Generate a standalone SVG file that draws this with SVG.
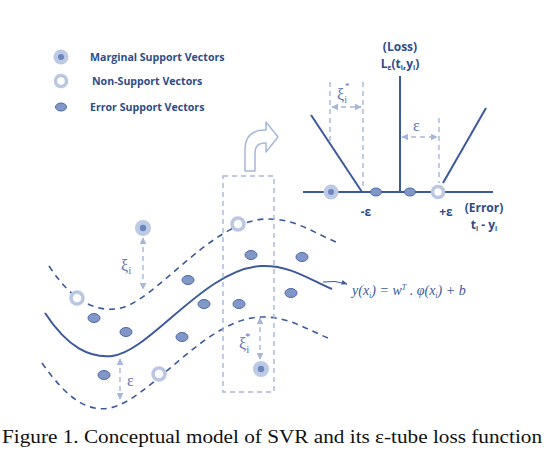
<svg xmlns="http://www.w3.org/2000/svg" width="544" height="450" viewBox="0 0 544 450">
<defs>
<style>
.lg{font-family:"Open Sans","Liberation Sans",sans-serif;font-weight:bold;font-size:10.6px;fill:#2c4c8c}
.bl{font-family:"Open Sans","Liberation Sans",sans-serif;font-weight:bold;font-size:12px;fill:#2c4c8c;text-anchor:middle}
.gr{font-family:"Liberation Serif",serif;font-size:16px;fill:#5a74b0}
.sol{fill:none;stroke:#3b5a9b;stroke-width:2}
.dsh{fill:none;stroke:#3b5a9b;stroke-width:1.6;stroke-dasharray:6 5}
.lt{fill:none;stroke:#a6b7dc;stroke-width:1.4;stroke-dasharray:5 4}
.err{fill:#8097c8;stroke:#4d6aa8;stroke-width:1}
.ring{fill:#fff;stroke:#b9c7e3;stroke-width:3.5}
.mo{fill:#bccae5}
.mi{fill:#6d85bd}
</style>
<marker id="ah" viewBox="0 0 10 10" refX="9" refY="5" markerWidth="5" markerHeight="5" orient="auto-start-reverse">
<path d="M0,0 L10,5 L0,10 z" fill="#a6b7dc"/>
</marker>
<marker id="ad" viewBox="0 0 10 10" refX="9" refY="5" markerWidth="6" markerHeight="6" orient="auto">
<path d="M0,1 L10,5 L0,9 z" fill="#3b5a9b"/>
</marker>
</defs>
<rect width="544" height="450" fill="#fff"/>

<g id="legend">
<circle class="mo" cx="61" cy="57" r="7.5"/><circle class="mi" cx="61" cy="57" r="3"/>
<text class="lg" x="90" y="61">Marginal Support Vectors</text>
<circle class="ring" cx="61" cy="81" r="5.5"/>
<text class="lg" x="92" y="85">Non-Support Vectors</text>
<ellipse class="err" cx="61" cy="107" rx="5.5" ry="4"/>
<text class="lg" x="90" y="111">Error Support Vectors</text>
</g>

<g id="connectors">
<path class="dsh" d="M45,313 C68,348 90,358 112,356 C150,352 205,268 262,266 C290,265 310,280 332,289" transform="translate(4,-47)"/>
<path class="dsh" d="M42,363 C68,400 88,412 110,408 C150,400 205,319 260,317 C288,316 308,330 328,338"/>
<path class="sol" d="M45,313 C68,348 90,358 112,356 C150,352 205,268 262,266 C290,265 310,280 332,289"/>
<path d="M323,282 Q335,280 347,284" fill="none" stroke="#3b5a9b" stroke-width="1" marker-end="url(#ad)"/>
<rect class="lt" x="223" y="176" width="51" height="216"/>
<line class="lt" x1="143" y1="238" x2="143" y2="289" marker-start="url(#ah)" marker-end="url(#ah)"/>
<line class="lt" x1="120" y1="359" x2="120" y2="399" marker-start="url(#ah)" marker-end="url(#ah)"/>
<line class="lt" x1="260" y1="318" x2="260" y2="359" marker-start="url(#ah)" marker-end="url(#ah)"/>
<path d="M245,171 L245,150 Q245,130 265,130 L266,130 L266,122 L278,137 L266,152 L266,143 L265,143 Q255,143 255,153 L255,171 Z" fill="#fff" stroke="#a6b7dc" stroke-width="1.5" stroke-linejoin="round"/>
</g>

<g id="points">
<ellipse class="err" cx="188" cy="280" rx="6" ry="4.5"/>
<ellipse class="err" cx="94" cy="318" rx="6" ry="4.5"/>
<ellipse class="err" cx="126" cy="332" rx="6" ry="4.5"/>
<ellipse class="err" cx="204" cy="304" rx="6" ry="4.5"/>
<ellipse class="err" cx="182" cy="337" rx="6" ry="4.5"/>
<ellipse class="err" cx="239" cy="304" rx="6" ry="4.5"/>
<ellipse class="err" cx="251" cy="255" rx="6" ry="4.5"/>
<ellipse class="err" cx="291" cy="293" rx="6" ry="4.5"/>
<ellipse class="err" cx="302" cy="257" rx="6" ry="4.5"/>
<ellipse class="err" cx="104" cy="375" rx="6" ry="4.5"/>
<circle class="ring" cx="77" cy="298" r="6"/>
<circle class="ring" cx="238" cy="224" r="6"/>
<circle class="ring" cx="159" cy="374" r="6"/>
<circle class="mo" cx="143" cy="228" r="8"/><circle class="mi" cx="143" cy="228" r="3.2"/>
<circle class="mo" cx="261" cy="369" r="8"/><circle class="mi" cx="261" cy="369" r="3.2"/>
</g>

<g id="labels">
<text class="gr" x="121" y="271">ξ<tspan font-size="11" dy="3">i</tspan></text>
<text class="gr" x="127" y="386">ε</text>
<text class="gr" x="239" y="349">ξ<tspan font-size="11" dy="4">i</tspan><tspan font-size="10" dx="-4" dy="-13">*</tspan></text>
<text font-family="Liberation Serif,serif" font-style="italic" font-size="14" fill="#3b5a9b" x="352" y="295">y(x<tspan font-size="8" dy="3">i</tspan><tspan dy="-3">) = w</tspan><tspan font-size="8" dy="-5">T</tspan><tspan dy="5"> . φ(x</tspan><tspan font-size="8" dy="3">i</tspan><tspan dy="-3">) + b</tspan></text>
</g>

<g id="loss-plot">
<line class="sol" x1="303" y1="192" x2="493" y2="192"/>
<line class="sol" x1="400" y1="76" x2="400" y2="192"/>
<line class="sol" x1="311" y1="115" x2="362" y2="192"/>
<line class="sol" x1="443" y1="183" x2="486" y2="108"/>
<line class="lt" x1="330" y1="82" x2="330" y2="142"/>
<line class="lt" x1="363" y1="82" x2="363" y2="190"/>
<line class="lt" x1="439" y1="118" x2="439" y2="183"/>
<line class="lt" x1="332" y1="107" x2="361" y2="107" marker-start="url(#ah)" marker-end="url(#ah)" stroke-dasharray="none"/>
<line class="lt" x1="402" y1="137" x2="437" y2="137" marker-start="url(#ah)" marker-end="url(#ah)"/>
<text class="gr" x="337" y="100" font-size="15">ξ<tspan font-size="10" dy="3">i</tspan><tspan font-size="9" dx="-2" dy="-14">*</tspan></text>
<text class="gr" x="413" y="131" font-size="15">ε</text>
<circle class="mo" cx="331" cy="192" r="7.5"/><circle class="mi" cx="331" cy="192" r="3"/>
<ellipse class="err" cx="376" cy="192" rx="5.5" ry="4"/>
<ellipse class="err" cx="410" cy="192" rx="5.5" ry="4"/>
<circle class="ring" cx="438" cy="192" r="5.5"/>
<text class="bl" x="366" y="216">-ε</text>
<text class="bl" x="446" y="216">+ε</text>
<text class="bl" x="484" y="212">(Error)</text>
<text class="bl" x="484" y="229">t<tspan font-size="7" dy="2">i</tspan><tspan dy="-2"> - y</tspan><tspan font-size="7" dy="2">i</tspan></text>
<text class="bl" x="400" y="51">(Loss)</text>
<text class="bl" x="400" y="68">L<tspan font-size="7" dy="2">ε</tspan><tspan dy="-2">(t</tspan><tspan font-size="7" dy="2">i</tspan><tspan dy="-2">,y</tspan><tspan font-size="7" dy="2">i</tspan><tspan dy="-2">)</tspan></text>
</g>

<text id="caption" x="2" y="443" font-family="Liberation Serif,serif" font-size="19" fill="#111" textLength="540" lengthAdjust="spacingAndGlyphs">Figure 1. Conceptual model of SVR and its ε-tube loss function</text>
</svg>
